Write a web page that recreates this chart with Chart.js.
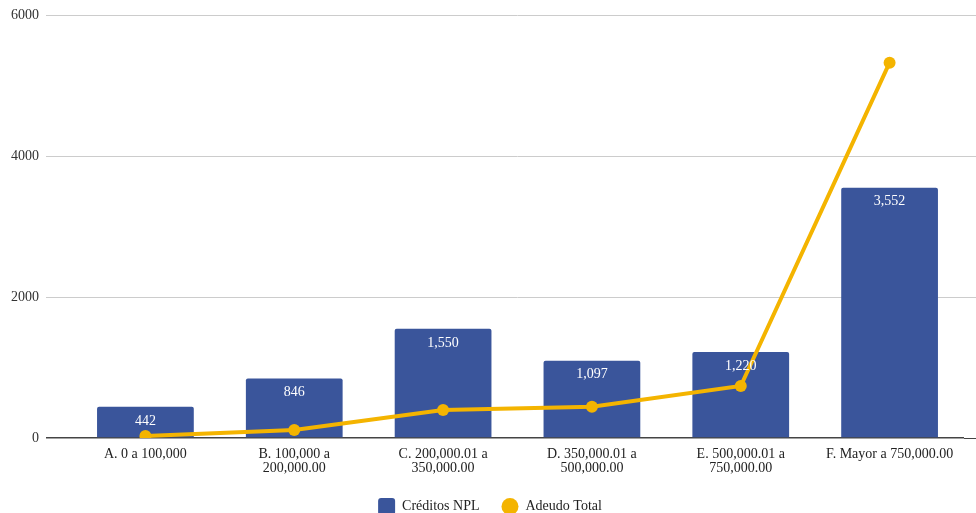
<!DOCTYPE html>
<html>
<head>
<meta charset="utf-8">
<script src="https://cdn.jsdelivr.net/npm/chart.js@4/dist/chart.umd.min.js"></script>
<style>
  html, body { margin: 0; padding: 0; background: #fff; overflow: hidden; }
  #wrap { width: 976px; height: 513px; }
</style>
</head>
<body>
<div id="wrap"><canvas id="chart"></canvas></div>
<script>
// rangos de adeudo
const categories = [
    ["A. 0 a 100,000"],
    ["B. 100,000 a", "200,000.00"],
    ["C. 200,000.01 a", "350,000.00"],
    ["D. 350,000.01 a", "500,000.00"],
    ["E. 500,000.01 a", "750,000.00"],
    ["F. Mayor a 750,000.00"]
];
const creditosNPL = [442, 846, 1550, 1097, 1220, 3552];
const adeudoTotal = [28, 113, 397, 444, 738, 5329];
const yTicks = [0, 2000, 4000, 6000];

const FONT = "'Liberation Serif', 'DejaVu Serif', serif";

// etiquetas blancas dentro de las barras
const barLabels = {
    id: "barLabels",
    afterDatasetsDraw(chart) {
        const ctx = chart.ctx;
        const meta = chart.getDatasetMeta(0);
        ctx.save();
        ctx.fillStyle = "#ffffff";
        ctx.font = "14px " + FONT;
        ctx.textAlign = "center";
        ctx.textBaseline = "middle";
        meta.data.forEach((bar, i) => {
            ctx.fillText(creditosNPL[i].toLocaleString("en-US"), bar.x, bar.y + 14);
        });
        ctx.restore();
    }
};

new Chart(document.getElementById("chart"), {
    data: {
        labels: categories,
        datasets: [
            {
                type: "bar",
                label: "Créditos NPL",
                data: creditosNPL,
                backgroundColor: "#3a559b",
                borderRadius: 2,
                barPercentage: 0.65,
                categoryPercentage: 1,
                order: 2
            },
            {
                type: "line",
                label: "Adeudo Total",
                data: adeudoTotal,
                borderColor: "#f4b400",
                backgroundColor: "#f4b400",
                borderWidth: 4,
                pointRadius: 6,
                pointHoverRadius: 6,
                pointBackgroundColor: "#f4b400",
                pointBorderWidth: 0,
                tension: 0,
                order: 1
            }
        ]
    },
    options: {
        responsive: true,
        maintainAspectRatio: false,
        animation: false,
        // la leyenda queda medio cortada abajo, como en el original
        layout: { padding: { left: 4, top: 8, right: 0, bottom: -12 } },
        plugins: {
            legend: {
                position: "bottom",
                labels: {
                    boxWidth: 17,
                    boxHeight: 17,
                    padding: 22,
                    color: "#222",
                    font: { family: FONT, size: 14 },
                    sort: (a, b) => a.datasetIndex - b.datasetIndex,
                    generateLabels(chart) {
                        const items = Chart.defaults.plugins.legend.labels.generateLabels(chart);
                        items.forEach(it => {
                            it.lineWidth = 0;
                            // cuadro para barras, círculo para la línea
                            it.borderRadius = it.datasetIndex === 1 ? 8.5 : 3;
                        });
                        return items;
                    }
                }
            },
            tooltip: { enabled: false }
        },
        scales: {
            x: {
                grid: { display: false },
                border: { display: false },
                ticks: {
                    color: "#222",
                    maxRotation: 0,
                    autoSkip: false,
                    padding: 1,
                    font: { family: FONT, size: 14, lineHeight: 1.0 }
                }
            },
            y: {
                min: 0,
                max: 6000,
                afterBuildTicks(axis) {
                    axis.ticks = yTicks.map(v => ({ value: v }));
                },
                grid: {
                    color: ctx => ctx.tick && ctx.tick.value === 0 ? "#444" : "#cccccc",
                    lineWidth: ctx => ctx.tick && ctx.tick.value === 0 ? 1.5 : 1,
                    tickLength: 25
                },
                border: { display: false },
                ticks: {
                    color: "#333",
                    padding: 7,
                    font: { family: FONT, size: 14 },
                    callback: v => String(v)
                }
            },
            y2: {
                position: "right",
                min: 0,
                max: 6000,
                afterBuildTicks(axis) {
                    axis.ticks = yTicks.map(v => ({ value: v }));
                },
                grid: {
                    drawOnChartArea: false,
                    color: ctx => ctx.tick && ctx.tick.value === 0 ? "#444" : "#cccccc",
                    tickLength: 12
                },
                border: { display: false },
                ticks: { display: false }
            }
        }
    },
    plugins: [barLabels]
});
</script>
</body>
</html>
